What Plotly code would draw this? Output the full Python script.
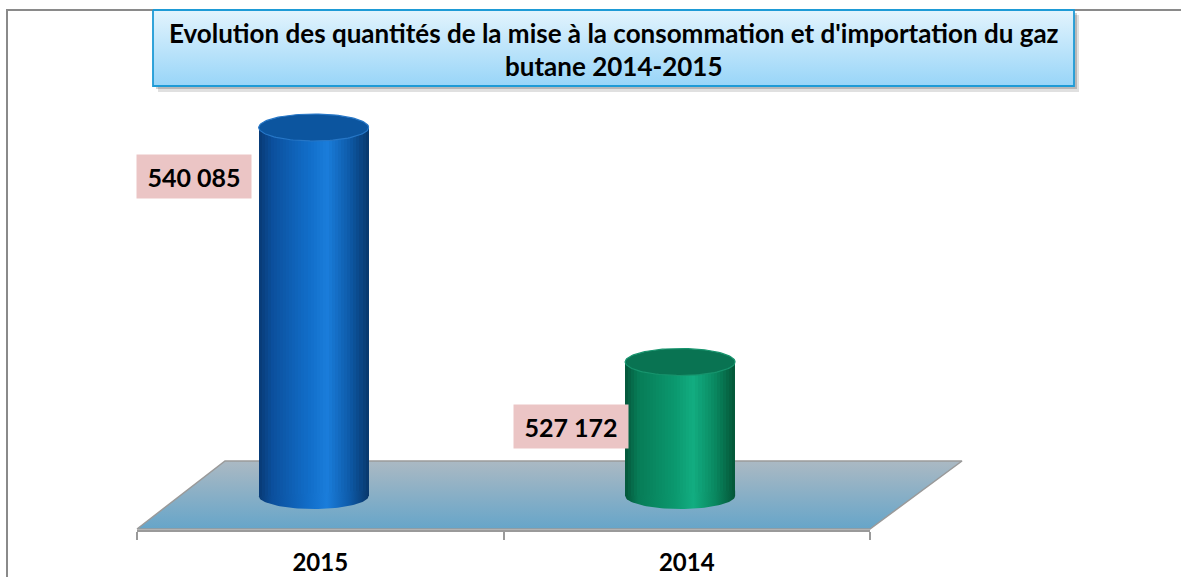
import numpy as np
import plotly.graph_objects as go
from plotly.colors import sample_colorscale

# ---------------- data ----------------
categories = ["2015", "2014"]
values = [540085, 527172]
title_lines = [
    "Evolution des quantités de la mise à la consommation et d'importation du gaz",
    "butane 2014-2015",
]

# ---------------- layout constants ----------------
W, H = 1181, 577
FONT = "Lato"
X_DOMAIN_PX = (137, 870)
Y_AXIS_PX = 530
Y_RANGE = [517920, 547106]
BAR_BASE = 519793
BAR_WIDTH = 0.30
BAR_SHIFT = -0.018
CAP_H = 743      # half height of top ellipse (data units)
BOTTOM_D = 716   # depth of bottom curve (data units)
N_STRIPS = 36

scales = [
    [[0, "#083a74"], [0.12, "#0b4f9c"], [0.45, "#116dc8"], [0.62, "#1a7ddb"],
     [0.82, "#0e5cab"], [1, "#08376b"]],
    [[0, "#04563a"], [0.12, "#077c57"], [0.45, "#0b986e"], [0.62, "#12ad81"],
     [0.82, "#09875f"], [1, "#045537"]],
]
top_fill = ["#0c559f", "#097352"]
top_rim = ["#2676c6", "#17946d"]
label_bg = "#ebc5c5"
label_shift = [(-7, -49), (4, -65)]

fig = go.Figure()

# ---------- background decorations (pixel subplot x/y) ----------
def px_poly(xs, ys, **kw):
    fig.add_trace(go.Scatter(x=xs, y=ys, mode="lines", fill="toself",
                             hoverinfo="skip", showlegend=False,
                             xaxis="x", yaxis="y", **kw))

# floor
px_poly([137, 870, 962, 225, 137], [529, 529, 461, 461, 529],
        line=dict(color="#9a9a9a", width=1.5),
        fillgradient=dict(type="vertical",
                          colorscale=[[0, "#66a5c9"], [1, "#abb9c3"]]))
# title box shadow + box
px_poly([158, 1079, 1079, 158, 158], [15, 15, 92, 92, 15],
        line=dict(width=0), fillcolor="rgba(0,0,0,0.12)")
px_poly([156, 1077, 1077, 156, 156], [13, 13, 89, 89, 13],
        line=dict(width=0), fillcolor="rgba(0,0,0,0.18)")
px_poly([153, 1074, 1074, 153, 153], [10, 10, 86, 86, 10],
        line=dict(color="#1e9bd6", width=1.8),
        fillgradient=dict(type="vertical",
                          colorscale=[[0, "#98d5f8"], [1, "#e3f4fd"]]))

# ---------- cylinders (data subplot x2/y2) ----------
xs = list(range(len(categories)))
hw = BAR_WIDTH / 2
t_low = np.linspace(0, np.pi, 60)
t_full = np.linspace(0, 2 * np.pi, 120)

# bottom curves
for i, c in enumerate(xs):
    cx = c + BAR_SHIFT
    bx = np.concatenate([cx + hw * np.cos(t_low), [cx + hw]])
    by = np.concatenate([BAR_BASE - BOTTOM_D * np.sin(t_low), [BAR_BASE + 300]])
    fig.add_trace(go.Scatter(x=bx, y=by, mode="lines", fill="toself",
                             line=dict(width=0), hoverinfo="skip",
                             showlegend=False, xaxis="x2", yaxis="y2",
                             fillgradient=dict(type="horizontal",
                                               colorscale=scales[i])))

# bar bodies drawn as overlapping shaded strips
w_strip = BAR_WIDTH / N_STRIPS
for k in range(N_STRIPS):
    t = (k + 0.5) / N_STRIPS
    cols = [sample_colorscale(scales[i], [t])[0] for i in range(len(xs))]
    fig.add_trace(go.Bar(
        x=xs, y=[v - BAR_BASE for v in values], base=BAR_BASE,
        width=BAR_WIDTH - k * w_strip,
        offset=BAR_SHIFT - hw + k * w_strip,
        marker=dict(color=cols, line=dict(width=0)),
        showlegend=False, xaxis="x2", yaxis="y2",
        customdata=values,
        hoverinfo="skip" if k else None,
        hovertemplate=None if k else "%{x}: %{customdata}<extra></extra>",
    ))

# top ellipses
for i, c in enumerate(xs):
    cx = c + BAR_SHIFT
    fig.add_trace(go.Scatter(
        x=cx + hw * np.cos(t_full), y=values[i] + CAP_H * np.sin(t_full),
        mode="lines", fill="toself", fillcolor=top_fill[i],
        line=dict(color=top_rim[i], width=1.2), hoverinfo="skip",
        showlegend=False, xaxis="x2", yaxis="y2"))

# ---------- annotations ----------
ann = []
for j, (line_txt, ypx) in enumerate(zip(title_lines, [33, 66])):
    ann.append(dict(text=line_txt, x=613.5 / W, y=1 - ypx / H, xref="paper",
                    yref="paper", showarrow=False, xanchor="center", yanchor="middle",
                    font=dict(family=FONT, size=26, color="black", weight="bold")))
for i, c in enumerate(xs):
    lbl = f"{values[i]:,}".replace(",", " ")
    ann.append(dict(text=lbl, x=c + BAR_SHIFT - hw, y=values[i], xref="x2", yref="y2",
                    xanchor="right", yanchor="middle", showarrow=False,
                    xshift=label_shift[i][0], yshift=label_shift[i][1],
                    width=108, height=37, bgcolor=label_bg, borderpad=3,
                    align="center", valign="middle",
                    font=dict(family=FONT, size=25, color="black", weight="bold")))

fig.update_layout(
    width=W, height=H, autosize=False,
    margin=dict(l=0, r=0, t=0, b=0),
    paper_bgcolor="white", plot_bgcolor="rgba(0,0,0,0)",
    barmode="overlay", bargap=0,
    annotations=ann,
    shapes=[dict(type="rect", xref="x", yref="y", x0=7, y0=10, x1=1200, y1=600,
                 line=dict(color="#8a8a8a", width=2), layer="below")],
    xaxis=dict(domain=[0, 1], range=[0, W], visible=False, fixedrange=True),
    yaxis=dict(domain=[0, 1], range=[H, 0], visible=False, fixedrange=True),
    xaxis2=dict(domain=[X_DOMAIN_PX[0] / W, X_DOMAIN_PX[1] / W], range=[-0.5, 1.5],
                anchor="y2", tickmode="array", tickvals=xs, ticktext=categories,
                ticks="", showgrid=False, zeroline=False, showline=True,
                linecolor="#9a9a9a", linewidth=1.5,
                ticklabelstandoff=10,
                tickfont=dict(family=FONT, size=24, color="black", weight="bold"),
                minor=dict(tickmode="array", tickvals=[-0.5, 0.5, 1.5], ticks="outside",
                           ticklen=8, tickcolor="#9a9a9a", tickwidth=1.5, showgrid=False)),
    yaxis2=dict(domain=[1 - Y_AXIS_PX / H, 1], range=Y_RANGE, anchor="x2",
                visible=False, fixedrange=True),
)

fig.write_html("out.html",
               config={"displayModeBar": False},
               post_script="document.body.style.margin='0px';document.body.style.overflow='hidden';")
